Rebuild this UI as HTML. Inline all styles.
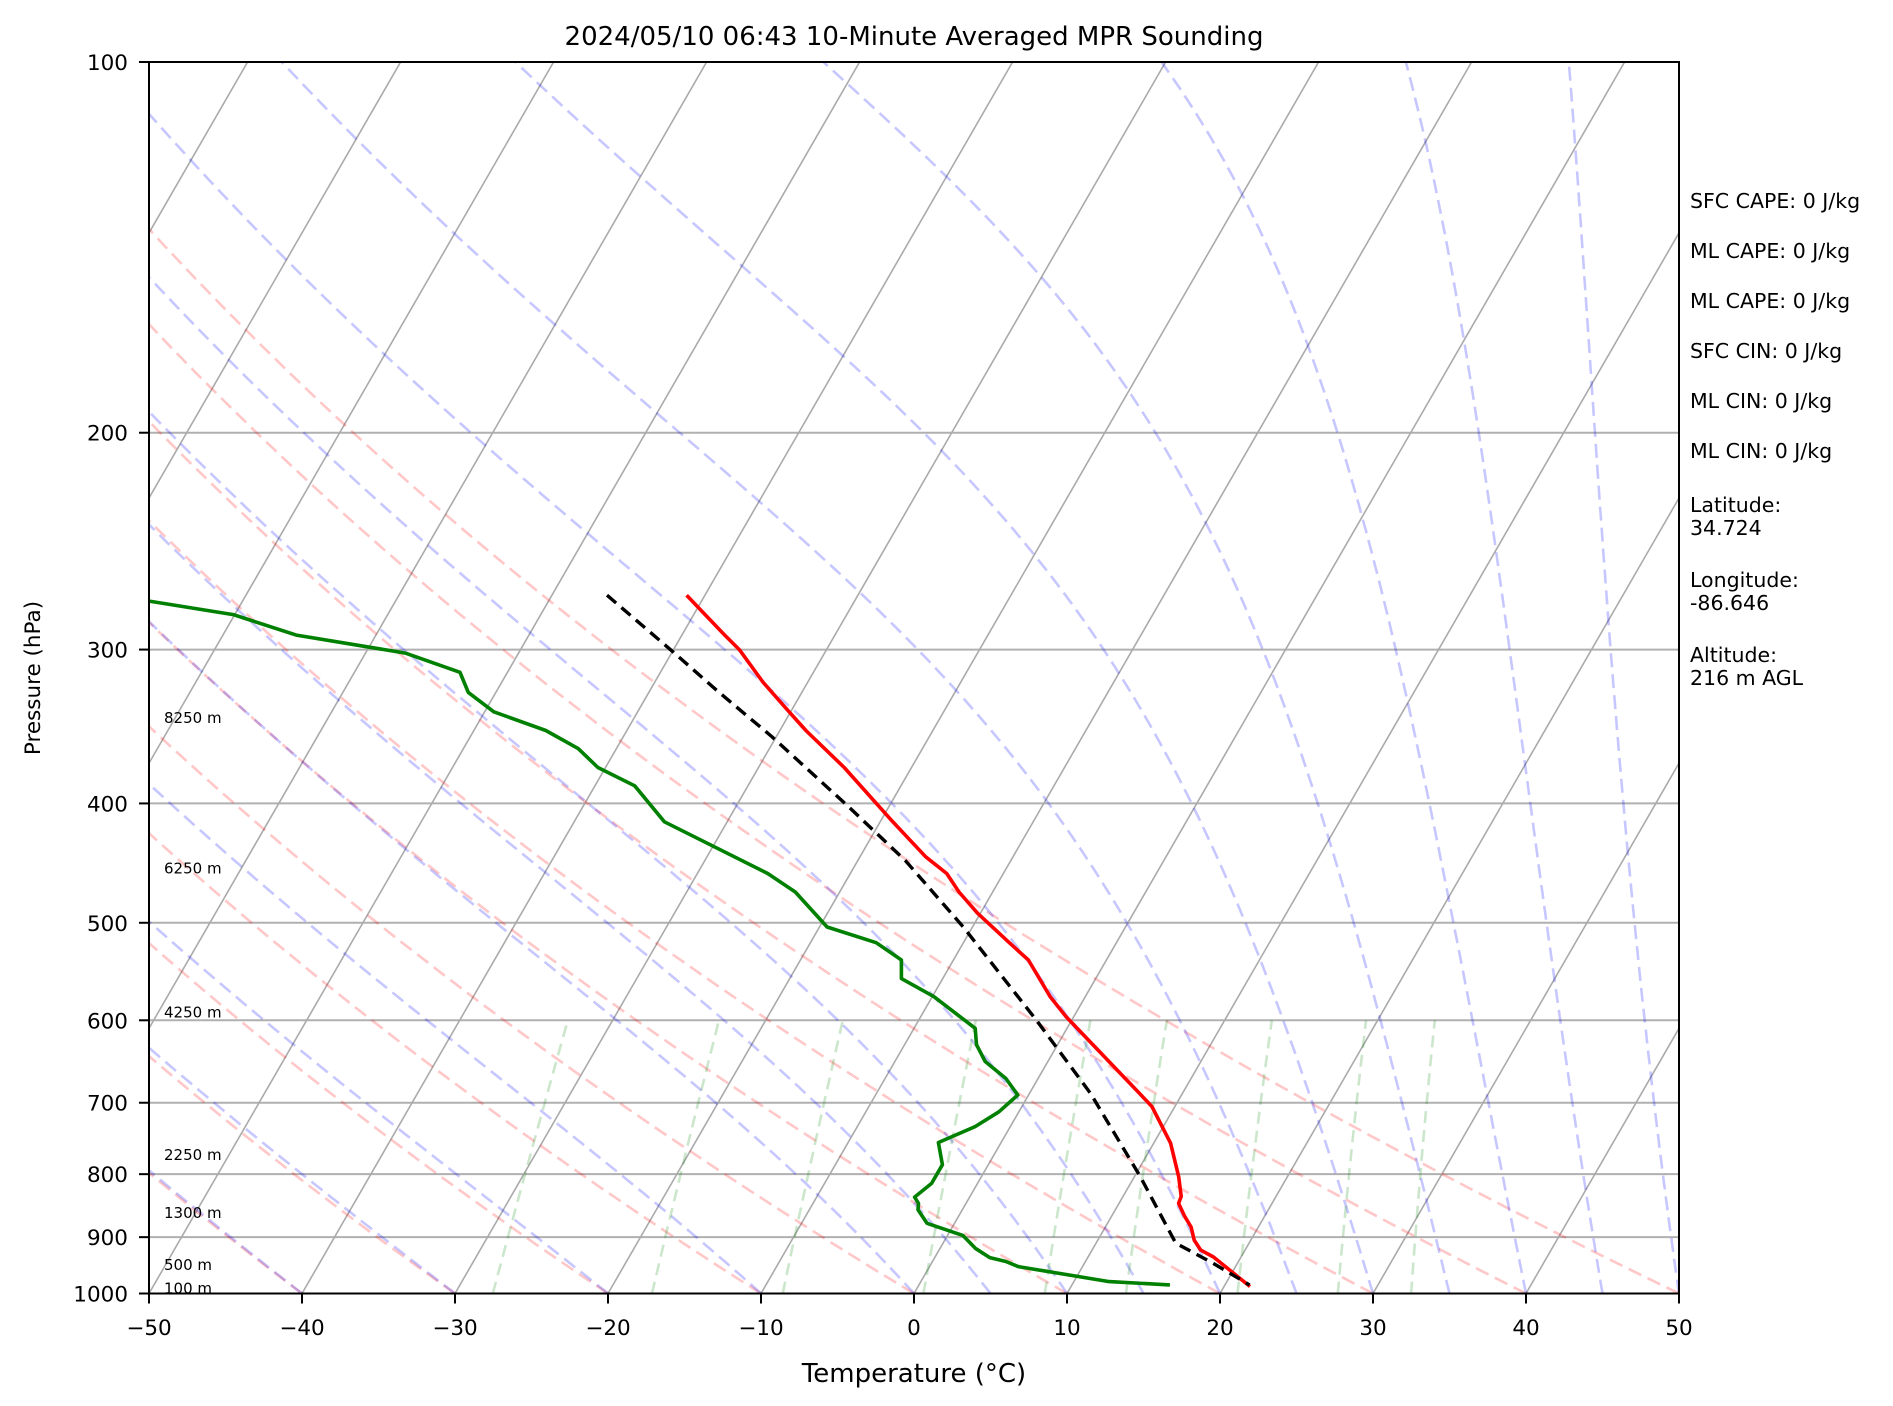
<!DOCTYPE html>
<html><head><meta charset="utf-8"><style>
html,body{margin:0;padding:0;background:#fff;}
svg{display:block;font-family:"DejaVu Sans","Liberation Sans",sans-serif;}
</style></head><body>
<svg id="chart" width="1893" height="1406" viewBox="0 0 1893 1406" xmlns="http://www.w3.org/2000/svg">
<defs><clipPath id="plotclip"><rect x="149" y="62" width="1530" height="1231.5"/></clipPath></defs>
<rect x="0" y="0" width="1893" height="1406" fill="#fff"/>
<g id="bg" clip-path="url(#plotclip)"></g>
<g id="profiles" clip-path="url(#plotclip)"></g>
<rect x="149" y="62" width="1530" height="1231.5" fill="none" stroke="#000" stroke-width="2"/>
<g id="axes"></g>
<text x="914" y="45" text-anchor="middle" font-size="26">2024/05/10 06:43 10-Minute Averaged MPR Sounding</text>
<text x="914" y="1382" text-anchor="middle" font-size="26">Temperature (°C)</text>
<text x="0" y="0" transform="translate(40,678) rotate(-90)" text-anchor="middle" font-size="21.5">Pressure (hPa)</text>
<g font-size="20.5" fill="#000">
<text x="1690" y="208">SFC CAPE: 0 J/kg</text>
<text x="1690" y="258">ML CAPE: 0 J/kg</text>
<text x="1690" y="308">ML CAPE: 0 J/kg</text>
<text x="1690" y="358">SFC CIN: 0 J/kg</text>
<text x="1690" y="408">ML CIN: 0 J/kg</text>
<text x="1690" y="458">ML CIN: 0 J/kg</text>
<text x="1690" y="512">Latitude:</text>
<text x="1690" y="535">34.724</text>
<text x="1690" y="587">Longitude:</text>
<text x="1690" y="610">-86.646</text>
<text x="1690" y="662">Altitude:</text>
<text x="1690" y="685">216 m AGL</text>
</g>
</svg>
<script>
// ---- data ----
const tempP = [271,292,300,319,337,349,374,413,442,456,472,491,519,536,574,596,688,705,755,804,834,845,866,883,905,922,934,987];
const tempT = [-41.2,-37.2,-35.7,-32.9,-30.1,-28.3,-24.4,-19.3,-15.7,-13.7,-12.2,-10.2,-7.0,-5.1,-2.3,-0.5,7.2,8.5,11.1,12.9,13.8,13.9,14.8,15.6,16.3,17.1,18.2,21.7];
const dewP = [274,281,292,302,313,325,337,349,361,374,387,414,456,472,504,519,536,555,574,609,628,648,669,690,712,732,754,786,814,835,845,855,877,897,919,935,942,951,978,984];
const dewT = [-76.1,-70.1,-65.2,-57.4,-53.1,-51.8,-49.4,-45.3,-42.5,-40.5,-37.4,-34.1,-25.4,-22.9,-19.5,-15.7,-13.4,-12.7,-9.9,-6.0,-5.3,-4.1,-2.1,-0.7,-1.3,-2.3,-4.1,-3.0,-3.0,-3.6,-3.1,-2.9,-1.8,1.0,2.3,3.6,4.8,5.8,12.3,16.4];
const parcelP = [271,301,324,353,402,445,504,600,688,804,910,945,984];
const parcelT = [-46.4,-40.0,-35.6,-30.3,-22.7,-16.9,-10.6,-2.3,4.0,10.4,15.2,18.4,21.6];
const xTicks = [-50,-40,-30,-20,-10,0,10,20,30,40,50];
const yTicks = [100,200,300,400,500,600,700,800,900,1000];
const heightLabels = ["8250 m","6250 m","4250 m","2250 m","1300 m","500 m","100 m"];
const heightP = [344,456,597,779,868,957,1000];
const mixRatios = [0.0004,0.001,0.002,0.004,0.007,0.01,0.016,0.024,0.032];

// ---- axes ----
const L=149,R=1679,TOP=62,B=1293.5;
const SK=0.577;
function yP(p){return B-(B-TOP)*Math.log10(1000/p);}
function xT(t,p){return L+(t+50)*(R-L)/100+SK*(B-yP(p));}
const NS="http://www.w3.org/2000/svg";
function mk(tag,attrs,parent){const e=document.createElementNS(NS,tag);for(const k in attrs)e.setAttribute(k,attrs[k]);parent.appendChild(e);return e;}
function pathFrom(ps,ts){let d="";for(let i=0;i<ps.length;i++){d+=(i?"L":"M")+xT(ts[i],ps[i]).toFixed(1)+","+yP(ps[i]).toFixed(1);}return d;}
const bg=document.getElementById('bg'),prof=document.getElementById('profiles'),axes=document.getElementById('axes');

// horizontal grid
for(const p of yTicks){
  if(p===100||p===1000)continue;
  const l=mk('line',{x1:L,x2:R,y1:yP(p),y2:yP(p),stroke:'#b0b0b0','stroke-width':2},bg);
  
  
}
// isotherms
for(let t=-150;t<=50;t+=10){
  const l=mk('path',{d:pathFrom([1000,100],[t,t]),stroke:'#aaaaaa','stroke-width':1.6,fill:'none'},bg);
  
  
}
// dry adiabats
const plevs=[];for(let p=1000;p>=100;p-=10)plevs.push(p);
for(let t0=-50;t0<=50;t0+=10){
  const th=t0+273.15;
  const ts=plevs.map(p=>th*Math.pow(p/1000,0.2857)-273.15);
  const l=mk('path',{d:pathFrom(plevs,ts),stroke:'rgba(255,0,0,0.22)','stroke-width':2.6,fill:'none','stroke-dasharray':'14,7'},bg);
  
  
}
// moist adiabats
const Rd=287.04749,Cp=1004.67,Lv=2.50084e6,EPS=0.622;
function dTdp(p,T){const tc=T-273.15;let es=6.112*Math.exp(17.67*tc/(tc+243.5));if(es>p*0.9)es=p*0.9;const rs=EPS*es/(p-es);return (1/p)*(Rd*T+Lv*rs)/(Cp+(Lv*Lv*rs*EPS/(Rd*T*T)));}
const moistT0=[];for(let t=-50;t<0;t+=10)moistT0.push(t);for(let t=0;t<=50;t+=5)moistT0.push(t);
for(const t0 of moistT0){
  let T=t0+273.15,p=1000;const ps=[p],ts=[t0];const h=-5;
  while(p>100){
    const k1=dTdp(p,T),k2=dTdp(p+h/2,T+h/2*k1),k3=dTdp(p+h/2,T+h/2*k2),k4=dTdp(p+h,T+h*k3);
    T+=h/6*(k1+2*k2+2*k3+k4);p+=h;ps.push(p);ts.push(T-273.15);
  }
  const l=mk('path',{d:pathFrom(ps,ts),stroke:'rgba(0,0,255,0.22)','stroke-width':2.6,fill:'none','stroke-dasharray':'14,7'},bg);
  
  
}
// mixing ratio lines
for(const w of mixRatios){
  const ps=[],ts=[];
  for(let p=1000;p>=600;p-=20){const e=w*p/(EPS+w);const a=Math.log(e/6.112);ps.push(p);ts.push(243.5*a/(17.67-a));}
  const l=mk('path',{d:pathFrom(ps,ts),stroke:'rgba(0,128,0,0.2)','stroke-width':2.6,fill:'none','stroke-dasharray':'12,7'},bg);
  
  
}
// profiles
const tl=mk('path',{d:pathFrom(tempP,tempT),stroke:'#ff0000','stroke-width':3.6,fill:'none','stroke-linejoin':'round'},prof);


const dl=mk('path',{d:pathFrom(dewP,dewT),stroke:'#008000','stroke-width':3.6,fill:'none','stroke-linejoin':'round'},prof);


const pl=mk('path',{d:pathFrom(parcelP,parcelT),stroke:'#000','stroke-width':3.4,fill:'none','stroke-dasharray':'12,7'},prof);


// height labels
for(let i=0;i<heightLabels.length;i++){
  const t=mk('text',{x:164,y:yP(heightP[i]),'font-size':15},prof);
  t.textContent=heightLabels[i];
  
  
}
// ticks
for(const t of xTicks){
  const x=L+(t+50)*(R-L)/100;
  const tk=mk('line',{x1:x,x2:x,y1:B,y2:B+10,stroke:'#000','stroke-width':2},axes);
  
  
  const lb=mk('text',{x:x,y:1335,'text-anchor':'middle','font-size':21.5},axes);
  lb.textContent=(t<0?'\u2212':'')+Math.abs(t);
  
  
}
for(const p of yTicks){
  const y=yP(p);
  const tk=mk('line',{x1:L-10,x2:L,y1:y,y2:y,stroke:'#000','stroke-width':2},axes);
  
  
  const lb=mk('text',{x:128,y:y+8,'text-anchor':'end','font-size':21.5},axes);
  lb.textContent=p;
  
  
}
</script>
</body></html>
